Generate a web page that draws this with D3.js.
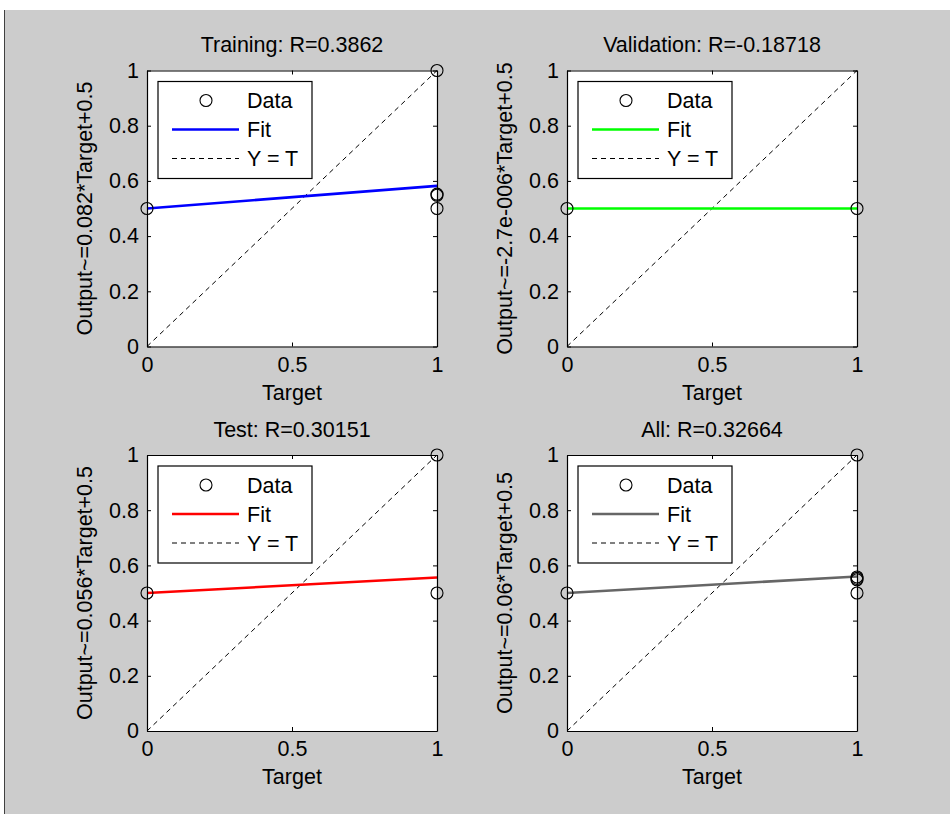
<!DOCTYPE html>
<html>
<head>
<meta charset="utf-8">
<script src="https://cdn.jsdelivr.net/npm/d3@7"></script>
<style>
  html, body { margin: 0; padding: 0; background: #ffffff; }
  svg { display: block; }
  text { font-family: "Liberation Sans", Arial, sans-serif; fill: #000; }
</style>
</head>
<body>
<svg id="chart" width="950" height="814"></svg>
<script>
// Regression panels: network output vs. target for each data split
const panelNames   = ["Training", "Validation", "Test", "All"];
const rValues      = ["0.3862", "-0.18718", "0.30151", "0.32664"];
const fitSlopes    = [0.082, -2.7e-6, 0.056, 0.06];
const fitIntercepts = [0.5, 0.5, 0.5, 0.5];
const slopeLabels  = ["0.082", "-2.7e-006", "0.056", "0.06"];
const fitColors    = ["#0000ff", "#00ff00", "#ff0000", "#666666"];

const trainTargets = [0, 1, 1, 1, 1];
const trainOutputs = [0.5, 1, 0.548, 0.552, 0.5];
const valTargets   = [0, 1];
const valOutputs   = [0.5, 0.5];
const testTargets  = [0, 1, 1];
const testOutputs  = [0.5, 1, 0.5];
const allTargets   = [0, 1, 1, 1, 1, 1];
const allOutputs   = [0.5, 1, 0.548, 0.553, 0.558, 0.5];

const xTicks = [0, 0.5, 1];
const yTicks = [0, 0.2, 0.4, 0.6, 0.8, 1];
const legendLabels = ["Data", "Fit", "Y = T"];

const targetsBySplit = [trainTargets, valTargets, testTargets, allTargets];
const outputsBySplit = [trainOutputs, valOutputs, testOutputs, allOutputs];

const svg = d3.select("#chart");

// figure background
svg.append("rect").attr("x", 5).attr("y", 10).attr("width", 945).attr("height", 804)
  .attr("fill", "#cccccc");
svg.append("line").attr("x1", 4.5).attr("x2", 4.5).attr("y1", 10).attr("y2", 814)
  .attr("stroke", "#404040").attr("stroke-width", 1);

const plotW = 290, plotH = 276;
const colLeft = [147, 567];
const rowTop = [70.5, 455];
const fontSize = 21.5;

panelNames.forEach((name, i) => {
  const left = colLeft[i % 2];
  const top = rowTop[Math.floor(i / 2)];
  const g = svg.append("g").attr("transform", `translate(${left},${top})`);

  const x = d3.scaleLinear().domain([0, 1]).range([0, plotW]);
  const y = d3.scaleLinear().domain([0, 1]).range([plotH, 0]);

  // plot area
  g.append("rect").attr("width", plotW).attr("height", plotH).attr("fill", "#ffffff");

  // Y = T reference line
  g.append("line")
    .attr("x1", x(0)).attr("y1", y(0)).attr("x2", x(1)).attr("y2", y(1))
    .attr("stroke", "#000").attr("stroke-width", 1).attr("stroke-dasharray", "5,4");

  // fitted line
  const fit = t => fitSlopes[i] * t + fitIntercepts[i];
  g.append("line")
    .attr("x1", x(0)).attr("y1", y(fit(0))).attr("x2", x(1)).attr("y2", y(fit(1)))
    .attr("stroke", fitColors[i]).attr("stroke-width", 2.6);

  // data points
  const pts = targetsBySplit[i].map((t, k) => ({ t, o: outputsBySplit[i][k] }));
  g.selectAll("circle.pt").data(pts).enter().append("circle")
    .attr("class", "pt")
    .attr("cx", d => x(d.t)).attr("cy", d => y(d.o)).attr("r", 6)
    .attr("fill", "none").attr("stroke", "#000").attr("stroke-width", 1.1);

  // axes (inward ticks, mirrored on top and right)
  const styleAxis = sel => {
    sel.selectAll("path.domain").attr("stroke", "#000").attr("stroke-width", 1.2);
    sel.selectAll(".tick line").attr("stroke", "#000");
    sel.selectAll("text").attr("font-size", fontSize).attr("font-family", "Liberation Sans, Arial, sans-serif").attr("fill", "#000");
  };
  g.append("g").attr("transform", `translate(0,${plotH})`)
    .call(d3.axisBottom(x).tickValues(xTicks).tickFormat(d3.format("")).tickSizeInner(-4).tickSizeOuter(0).tickPadding(10))
    .call(styleAxis);
  g.append("g")
    .call(d3.axisTop(x).tickValues(xTicks).tickFormat("").tickSizeInner(-4).tickSizeOuter(0))
    .call(styleAxis);
  g.append("g")
    .call(d3.axisLeft(y).tickValues(yTicks).tickFormat(d3.format("")).tickSizeInner(-4).tickSizeOuter(0).tickPadding(8))
    .call(styleAxis);
  g.append("g").attr("transform", `translate(${plotW},0)`)
    .call(d3.axisRight(y).tickValues(yTicks).tickFormat("").tickSizeInner(-4).tickSizeOuter(0))
    .call(styleAxis);

  // title and axis labels
  g.append("text").attr("x", plotW / 2).attr("y", -18.5)
    .attr("text-anchor", "middle").attr("font-size", fontSize)
    .text(`${name}: R=${rValues[i]}`);
  g.append("text").attr("x", plotW / 2).attr("y", plotH + 53)
    .attr("text-anchor", "middle").attr("font-size", fontSize)
    .text("Target");
  g.append("text")
    .attr("transform", `translate(-55,${plotH / 2}) rotate(-90)`)
    .attr("text-anchor", "middle").attr("font-size", fontSize)
    .text(`Output~=${slopeLabels[i]}*Target+0.5`);

  // legend
  const lg = g.append("g").attr("transform", "translate(11,11)");
  lg.append("rect").attr("width", 154).attr("height", 97)
    .attr("fill", "#ffffff").attr("stroke", "#000").attr("stroke-width", 1.2);
  const rowY = [19, 48, 77];
  lg.append("circle").attr("cx", 48).attr("cy", rowY[0]).attr("r", 6)
    .attr("fill", "none").attr("stroke", "#000").attr("stroke-width", 1.1);
  lg.append("line").attr("x1", 14).attr("x2", 81).attr("y1", rowY[1]).attr("y2", rowY[1])
    .attr("stroke", fitColors[i]).attr("stroke-width", 2.6);
  lg.append("line").attr("x1", 14).attr("x2", 81).attr("y1", rowY[2]).attr("y2", rowY[2])
    .attr("stroke", "#000").attr("stroke-width", 1).attr("stroke-dasharray", "5,4");
  legendLabels.forEach((lab, k) => {
    lg.append("text").attr("x", 89).attr("y", rowY[k]).attr("dy", "0.36em")
      .attr("font-size", fontSize).text(lab);
  });
});
</script>
</body>
</html>
